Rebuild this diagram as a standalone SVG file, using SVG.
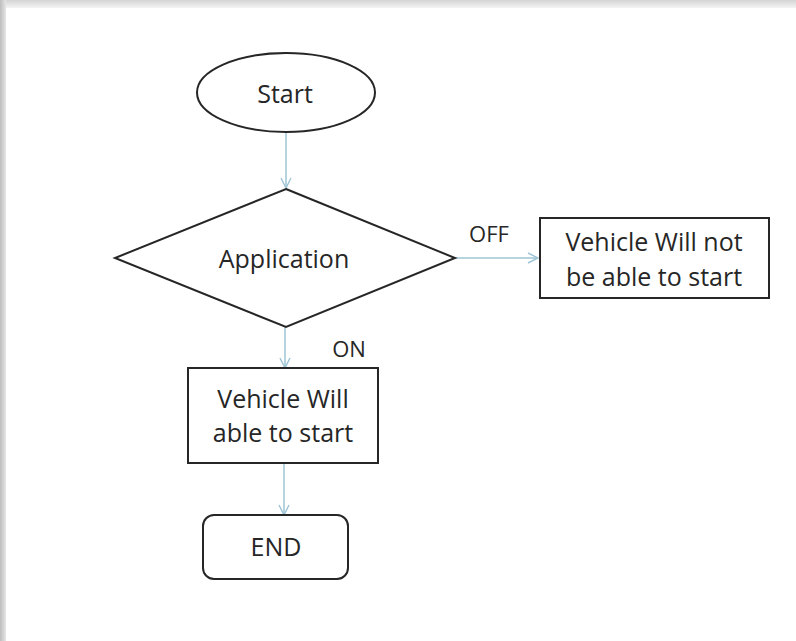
<svg xmlns="http://www.w3.org/2000/svg" width="796" height="641" viewBox="0 0 796 641">
<defs>
<linearGradient id="gTop" x1="0" y1="0" x2="0" y2="1">
<stop offset="0" stop-color="#d4d4d4"/>
<stop offset="1" stop-color="#f4f4f4"/>
</linearGradient>
<linearGradient id="gLeft" x1="0" y1="0" x2="1" y2="0">
<stop offset="0" stop-color="#bdbdbd"/>
<stop offset="1" stop-color="#e6e6e6"/>
</linearGradient>
<marker id="arr" viewBox="0 0 12 12" refX="11" refY="6" markerWidth="12" markerHeight="12" markerUnits="userSpaceOnUse" orient="auto">
<path d="M1,1 L11,6 L1,11" fill="none" stroke="#9ec4d6" stroke-width="1.4"/>
</marker>
<style>
.shape{fill:#fff;stroke:#262626;stroke-width:2}
.lbl{font-family:"Open Sans","Liberation Sans",sans-serif;font-size:25px;fill:#262626;text-anchor:middle}
.edge{fill:none;stroke:#9ec4d6;stroke-width:1.5}
.elbl{font-family:"Open Sans","Liberation Sans",sans-serif;font-size:22px;fill:#262626;text-anchor:middle}
</style>
</defs>
<rect x="0" y="0" width="796" height="641" fill="#fff"/>
<rect x="0" y="0" width="796" height="8" fill="url(#gTop)"/>
<rect x="0" y="0" width="6" height="641" fill="url(#gLeft)"/>
<g id="connectors">
<line class="edge" x1="286" y1="132" x2="286" y2="188" marker-end="url(#arr)"/>
<line class="edge" x1="455" y1="258" x2="538" y2="258" marker-end="url(#arr)"/>
<line class="edge" x1="285" y1="327" x2="285" y2="368" marker-end="url(#arr)"/>
<line class="edge" x1="284" y1="463" x2="284" y2="515" marker-end="url(#arr)"/>
<text class="elbl" x="489" y="242" font-size="22">OFF</text>
<text class="elbl" x="349" y="357" font-size="22">ON</text>
</g>
<g id="start">
<ellipse class="shape" cx="286" cy="92.5" rx="89" ry="39.5"/>
<text class="lbl" x="285" y="103">Start</text>
</g>
<g id="application">
<polygon class="shape" points="286,189 455,258 286,327 115,258"/>
<text class="lbl" x="284" y="268">Application</text>
</g>
<g id="not-start">
<rect class="shape" x="540" y="218" width="229" height="80"/>
<text class="lbl" x="654" y="251">Vehicle Will not</text>
<text class="lbl" x="654" y="286">be able to start</text>
</g>
<g id="able-start">
<rect class="shape" x="188" y="368" width="190" height="95"/>
<text class="lbl" x="283" y="408">Vehicle Will</text>
<text class="lbl" x="283" y="442">able to start</text>
</g>
<g id="end">
<rect class="shape" x="203" y="515" width="145" height="64" rx="11" ry="11"/>
<text class="lbl" x="276" y="556">END</text>
</g>
</svg>
